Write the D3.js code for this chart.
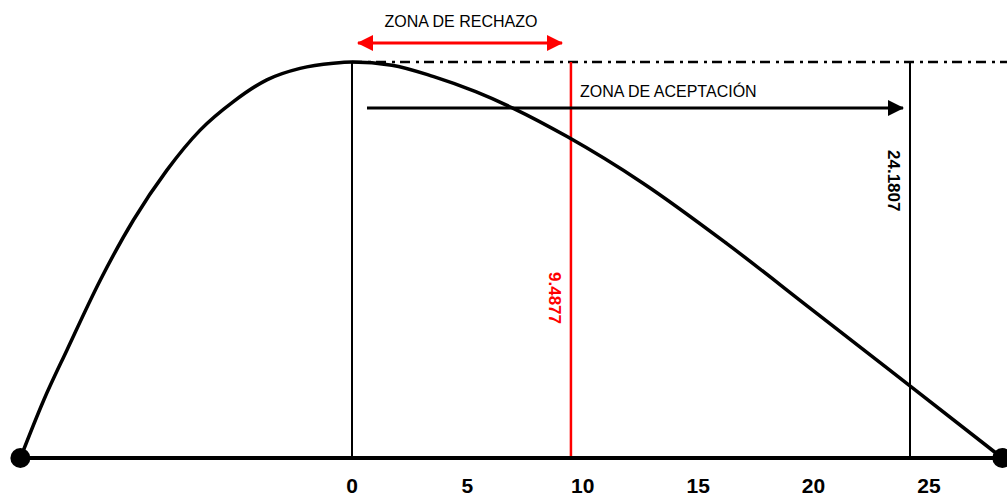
<!DOCTYPE html>
<html>
<head>
<meta charset="utf-8">
<script src="https://cdn.jsdelivr.net/npm/d3@7"></script>
<style>
  html, body { margin: 0; padding: 0; background: #fff; }
  svg { display: block; font-family: "Liberation Sans", Arial, sans-serif; }
</style>
</head>
<body>
<div id="chart"></div>
<script>
// curve (x in chi-square units, y as share of peak height)
const curveX = [-14.37, -13.36, -12.35, -10.91, -9.47, -8.02, -6.58, -5.14, -3.69, -2.25, -0.81, 0,
                1.73, 3.54, 5.36, 6.99, 9.34, 12.61, 16.23, 19.86, 24.22, 28.18];
const curveY = [0, 0.146, 0.273, 0.449, 0.601, 0.727, 0.828, 0.900, 0.955, 0.984, 0.997, 1,
                0.992, 0.963, 0.925, 0.883, 0.811, 0.694, 0.542, 0.378, 0.180, 0];
const tickValues = [0, 5, 10, 15, 20, 25];
const critical = 9.4877;   // valor de tabla
const observed = 24.1807;  // valor calculado
const rejectLabel = 'ZONA DE RECHAZO';
const acceptLabel = 'ZONA DE ACEPTACIÓN';

const fullWidth = 1007;
const fullHeight = 498;

const svg = d3.select('#chart')
  .append('svg')
  .attr('width', fullWidth)
  .attr('height', fullHeight);

const xScale = d3.scaleLinear()
  .domain([0, observed])
  .range([352, 910]);

const yScale = d3.scaleLinear()
  .domain([0, 1])
  .range([458, 62]);

const points = curveX.map((x, i) => [x, curveY[i]]);
const xMin = d3.min(curveX);
const xMax = d3.max(curveX);

// arrow heads
const defs = svg.append('defs');
function marker(id, color) {
  defs.append('marker')
    .attr('id', id)
    .attr('viewBox', '0 0 16 16')
    .attr('refX', 15)
    .attr('refY', 8)
    .attr('markerUnits', 'userSpaceOnUse')
    .attr('markerWidth', 16)
    .attr('markerHeight', 16)
    .attr('orient', 'auto-start-reverse')
    .append('path')
    .attr('d', 'M0,0 L16,8 L0,16 Z')
    .attr('fill', color);
}
marker('head-red', '#ff0000');
marker('head-black', '#000');

// dash-dot line at peak level
svg.append('line')
  .attr('x1', xScale(0))
  .attr('x2', fullWidth)
  .attr('y1', yScale(1))
  .attr('y2', yScale(1))
  .attr('stroke', '#000')
  .attr('stroke-width', 2.5)
  .attr('stroke-dasharray', '10,6,3,5');

// vertical lines
svg.append('line')
  .attr('x1', xScale(0)).attr('x2', xScale(0))
  .attr('y1', yScale(1)).attr('y2', yScale(0))
  .attr('stroke', '#000')
  .attr('stroke-width', 2);

svg.append('line')
  .attr('x1', xScale(observed)).attr('x2', xScale(observed))
  .attr('y1', yScale(1)).attr('y2', yScale(0))
  .attr('stroke', '#000')
  .attr('stroke-width', 2);

svg.append('line')
  .attr('x1', xScale(critical)).attr('x2', xScale(critical))
  .attr('y1', yScale(1)).attr('y2', yScale(0))
  .attr('stroke', '#ff0000')
  .attr('stroke-width', 2.5);

// curve
const line = d3.line()
  .x(d => xScale(d[0]))
  .y(d => yScale(d[1]))
  .curve(d3.curveMonotoneX);

svg.append('path')
  .datum(points)
  .attr('d', line)
  .attr('fill', 'none')
  .attr('stroke', '#000')
  .attr('stroke-width', 3.5);

// base line + end dots
svg.append('line')
  .attr('x1', xScale(xMin)).attr('x2', xScale(xMax))
  .attr('y1', yScale(0)).attr('y2', yScale(0))
  .attr('stroke', '#000')
  .attr('stroke-width', 4);

svg.selectAll('circle.end')
  .data([xMin, xMax])
  .enter()
  .append('circle')
  .attr('class', 'end')
  .attr('cx', d => xScale(d))
  .attr('cy', yScale(0))
  .attr('r', 10)
  .attr('fill', '#000');

// tick labels
svg.selectAll('text.tick')
  .data(tickValues)
  .enter()
  .append('text')
  .attr('class', 'tick')
  .attr('x', d => xScale(d))
  .attr('y', 493)
  .attr('text-anchor', 'middle')
  .attr('font-size', 21)
  .attr('font-weight', 'bold')
  .text(d => d);

// rejection zone arrow
svg.append('line')
  .attr('x1', 358).attr('x2', 562)
  .attr('y1', 43).attr('y2', 43)
  .attr('stroke', '#ff0000')
  .attr('stroke-width', 3)
  .attr('marker-start', 'url(#head-red)')
  .attr('marker-end', 'url(#head-red)');

svg.append('text')
  .attr('x', 461)
  .attr('y', 27)
  .attr('text-anchor', 'middle')
  .attr('font-size', 16)
  .text(rejectLabel);

// acceptance zone arrow
svg.append('line')
  .attr('x1', 367).attr('x2', 903)
  .attr('y1', 108).attr('y2', 108)
  .attr('stroke', '#000')
  .attr('stroke-width', 3)
  .attr('marker-end', 'url(#head-black)');

svg.append('text')
  .attr('x', 580)
  .attr('y', 97)
  .attr('font-size', 16)
  .text(acceptLabel);

// rotated values
svg.append('text')
  .attr('transform', `translate(${xScale(critical) - 22}, 272) rotate(90)`)
  .attr('font-size', 17)
  .attr('font-weight', 'bold')
  .attr('fill', '#ff0000')
  .text(critical);

svg.append('text')
  .attr('transform', `translate(${xScale(observed) - 22}, 150) rotate(90)`)
  .attr('font-size', 17)
  .attr('font-weight', 'bold')
  .attr('fill', '#000')
  .text(observed);
</script>
</body>
</html>
